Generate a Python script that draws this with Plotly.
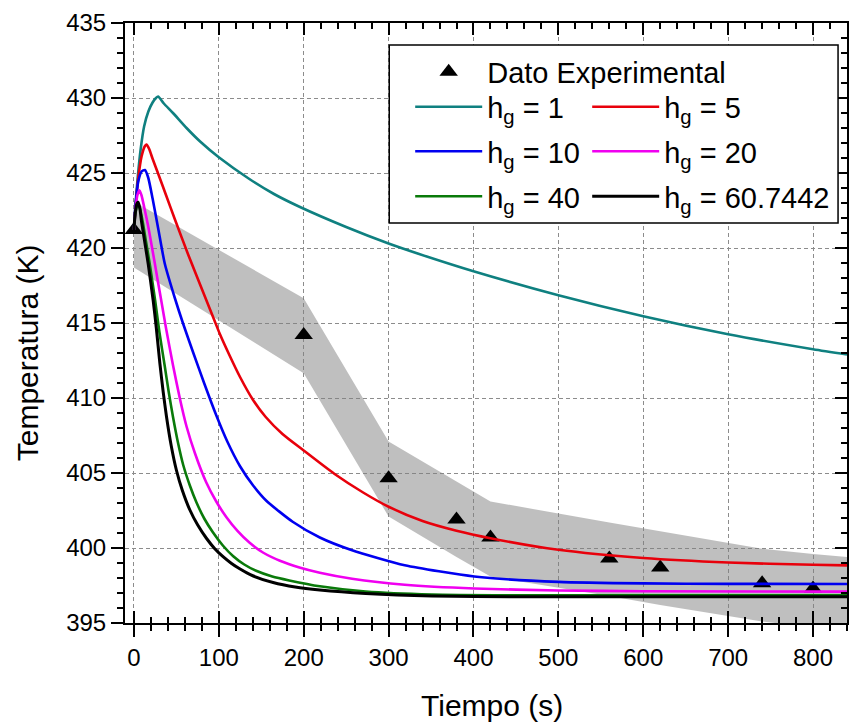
import plotly.graph_objects as go

FONT = "Arial, Liberation Sans, sans-serif"

# Experimental measurements (time in s, temperature in K)
t_exp = [0, 200, 300, 380, 420, 560, 620, 740, 800]
T_exp = [421.2, 414.2, 404.65, 401.9, 400.7, 399.3, 398.7, 397.65, 397.3]

# Uncertainty band around the measurements
band_t = [0, 200, 300, 380, 420, 560, 620, 740, 800, 850]
band_hi = [423.1, 416.65, 407.1, 404.45, 403.1, 401.7, 401.1, 399.95, 399.6, 399.35]
band_lo = [418.7, 411.65, 402.1, 399.4, 398.1, 396.8, 396.2, 395.1, 394.7, 394.4]

# Simulated temperature histories for each gas-side coefficient h_g
t_h1 = [0, 1.5, 4, 8, 12, 17, 22, 26, 28.5, 35, 46, 62, 78, 100, 136, 165, 195,
        250, 300, 336, 400, 500, 600, 700, 800, 840]
T_h1 = [421.2, 422.6, 424.4, 426.6, 428.1, 429.1, 429.7, 430.0, 430.1, 429.65, 429.0,
        428.0, 427.1, 426.05, 424.6, 423.6, 422.75, 421.4, 420.3, 419.6, 418.45, 416.85,
        415.45, 414.25, 413.25, 412.9]

t_h5 = [0, 2, 5, 9, 13, 15, 18, 22, 28.6, 38, 48, 64, 83, 95, 101, 113, 125, 140, 155,
        175, 200, 236, 270, 300, 340, 380, 420, 500, 600, 700, 800, 840]
T_h5 = [421.2, 422.8, 424.6, 426.1, 426.8, 426.9, 426.6, 425.95, 424.95, 423.5, 421.95,
        419.55, 416.85, 415.15, 414.3, 412.8, 411.4, 409.9, 408.75, 407.6, 406.5, 404.95,
        403.7, 402.75, 401.8, 401.15, 400.65, 399.88, 399.33, 399.03, 398.88, 398.84]

t_h10 = [0, 2, 5, 9, 13, 16.8, 22, 28.6, 36.4, 48, 58, 70, 83, 97, 110, 125, 140, 156,
         187, 219, 257, 319, 401, 500, 600, 700, 840]
T_h10 = [421.2, 422.9, 424.4, 425.1, 425.2, 424.7, 423.3, 421.3, 418.95, 416.7, 414.95,
         413.0, 410.95, 408.85, 407.1, 405.45, 404.2, 403.15, 401.75, 400.7, 399.85, 398.85,
         398.1, 397.74, 397.64, 397.61, 397.6]

t_h20 = [0, 2, 4, 6.5, 9, 12, 16.8, 20, 24.7, 28, 32.5, 38, 46, 54, 62, 72, 85, 97, 109,
         122, 136, 152, 172, 195, 219, 257, 319, 401, 500, 600, 840]
T_h20 = [421.2, 422.6, 423.5, 423.85, 423.5, 422.75, 421.45, 420.45, 418.95, 417.85, 416.4,
         414.6, 412.2, 410.0, 408.1, 406.3, 404.4, 403.1, 402.05, 401.14, 400.36, 399.7,
         399.15, 398.7, 398.35, 397.95, 397.55, 397.3, 397.17, 397.12, 397.09]

t_h40 = [0, 1.5, 3.5, 5.5, 7.5, 10.5, 14, 19, 25, 30, 36.4, 41, 46, 52, 58, 66, 73.6, 83,
         93, 105, 117, 130, 144, 163, 183, 219, 273, 351, 450, 600, 840]
T_h40 = [421.2, 422.2, 422.75, 422.85, 422.55, 421.7, 420.5, 418.8, 416.5, 414.4, 412.1,
         410.4, 408.75, 407.0, 405.55, 404.15, 403.05, 401.95, 401.05, 400.15, 399.45, 398.9,
         398.48, 398.1, 397.84, 397.45, 397.1, 396.9, 396.85, 396.85, 396.85]

t_h60 = [0, 1.5, 3.5, 5, 7, 9, 12.5, 16.8, 22.7, 26.5, 30.6, 34.5, 38.4, 44, 50, 57, 65.8,
         75, 85.4, 95, 105, 115, 124.6, 140, 164, 190, 219, 273, 351, 450, 600, 840]
T_h60 = [421.2, 422.3, 422.95, 423.05, 422.65, 421.75, 420.5, 418.95, 416.5, 414.6, 412.3,
         410.4, 408.75, 406.8, 405.2, 403.85, 402.55, 401.55, 400.65, 399.97, 399.42, 398.97,
         398.62, 398.15, 397.7, 397.4, 397.2, 396.97, 396.8, 396.75, 396.75, 396.75]

# name, x, y, colour, legend row, line width, legend entry width (first column only)
series = [
    ("h<sub>g</sub> = 1", t_h1, T_h1, "#0f8080", "legend2", 2.6, 95),
    ("h<sub>g</sub> = 5", t_h5, T_h5, "#e8000b", "legend2", 2.6, None),
    ("h<sub>g</sub> = 10", t_h10, T_h10, "#0000f0", "legend3", 2.6, 95),
    ("h<sub>g</sub> = 20", t_h20, T_h20, "#f000f0", "legend3", 2.6, None),
    ("h<sub>g</sub> = 40", t_h40, T_h40, "#0a7a0a", "legend4", 2.6, 95),
    ("h<sub>g</sub> = 60.7442", t_h60, T_h60, "#000000", "legend4", 3.0, None),
]

fig = go.Figure()

# shaded band (closed polygon: upper edge forward, lower edge back)
fig.add_trace(go.Scatter(
    x=band_t + band_t[::-1], y=band_hi + band_lo[::-1],
    fill="toself", fillcolor="rgba(128,128,128,0.5)", mode="lines",
    line=dict(width=0), hoverinfo="skip", showlegend=False))

fig.add_trace(go.Scatter(
    x=t_exp, y=T_exp, mode="markers", name="Dato Experimental",
    marker=dict(symbol="triangle-up", size=16, color="black"),
    legend="legend"))

for name, tx, ty, col, leg, width, lw in series:
    kw = dict(legendwidth=lw) if lw else {}
    fig.add_trace(go.Scatter(
        x=tx, y=ty, mode="lines", name=name,
        line=dict(color=col, width=width, shape="spline", smoothing=0.6),
        legend=leg, **kw))

# helper traces so the extra tick-only axes are drawn
fig.add_trace(go.Scatter(x=[None], y=[None], xaxis="x2", yaxis="y", showlegend=False, hoverinfo="skip"))
fig.add_trace(go.Scatter(x=[None], y=[None], xaxis="x3", yaxis="y", showlegend=False, hoverinfo="skip"))
fig.add_trace(go.Scatter(x=[None], y=[None], xaxis="x", yaxis="y2", showlegend=False, hoverinfo="skip"))

XR = [-10.5, 840]
YR = [395, 435]
tickfont = dict(family=FONT, size=24, color="black")
grid = dict(showgrid=True, gridcolor="#8c8c8c", griddash="4px,3px", gridwidth=1)
inside_minor_x = dict(ticks="inside", ticklen=6, tickwidth=2, tickcolor="black", dtick=20)
inside_minor_y = dict(ticks="inside", ticklen=6, tickwidth=2, tickcolor="black", dtick=1)
overlay_common = dict(ticks="inside", ticklen=12, tickwidth=2, tickcolor="black",
                      showticklabels=False, showgrid=False, zeroline=False, showline=False,
                      fixedrange=True)

fig.update_layout(
    width=850, height=723,
    margin=dict(l=125, r=1, t=23, b=100),
    paper_bgcolor="white", plot_bgcolor="white",
    font=dict(family=FONT, color="black"),
    xaxis=dict(range=XR, tick0=0, dtick=100, ticks="outside", ticklen=12, tickwidth=2,
               tickcolor="black", showline=True, linecolor="black", linewidth=2, mirror=True,
               zeroline=False, tickfont=tickfont, fixedrange=True,
               minor=dict(ticks="outside", ticklen=6, tickwidth=2, tickcolor="black",
                          dtick=20, showgrid=False), **grid),
    xaxis2=dict(range=XR, overlaying="x", side="top", anchor="y", tick0=0, dtick=100,
                minor=inside_minor_x, **overlay_common),
    xaxis3=dict(range=XR, overlaying="x", side="bottom", anchor="y", tick0=0, dtick=100,
                minor=inside_minor_x, **overlay_common),
    yaxis=dict(range=YR, tick0=395, dtick=5, ticks="outside", ticklen=12, tickwidth=2,
               tickcolor="black", showline=True, linecolor="black", linewidth=2, mirror=True,
               zeroline=False, tickfont=tickfont, fixedrange=True,
               minor=dict(ticks="outside", ticklen=6, tickwidth=2, tickcolor="black",
                          dtick=1, showgrid=False), **grid),
    yaxis2=dict(range=YR, overlaying="y", side="right", anchor="x", tick0=395, dtick=5,
                minor=inside_minor_y, **overlay_common),
    showlegend=True,
)

# legend: one row for the measurements, then three two-column rows
legfont = dict(family=FONT, size=29, color="black")
leg_common = dict(orientation="h", xanchor="left", yanchor="top", x=0.395,
                  bgcolor="rgba(0,0,0,0)", borderwidth=0, font=legfont,
                  itemwidth=67, itemclick=False, itemdoubleclick=False)
fig.update_layout(
    legend=dict(y=0.9609, **leg_common),
    legend2=dict(y=0.90275, **leg_common),
    legend3=dict(y=0.82842, **leg_common),
    legend4=dict(y=0.75342, **leg_common),
)

# legend frame
fig.add_shape(type="rect", xref="paper", yref="paper", x0=0.366, x1=0.9876,
              y0=0.6667, y1=0.9633, fillcolor="white",
              line=dict(color="black", width=1.5), layer="above")

# axis titles
fig.add_annotation(text="Tiempo (s)", xref="paper", yref="paper",
                   x=(493.5 - 125) / 724, y=1 - (705 - 23) / 600,
                   xanchor="center", yanchor="middle", showarrow=False,
                   font=dict(family=FONT, size=30, color="black"))
fig.add_annotation(text="Temperatura (K)", xref="paper", yref="paper",
                   x=(27 - 125) / 724, y=1 - (353 - 23) / 600, textangle=-90,
                   xanchor="center", yanchor="middle", showarrow=False,
                   font=dict(family=FONT, size=30, color="black"))

fig.write_html("out.html")
